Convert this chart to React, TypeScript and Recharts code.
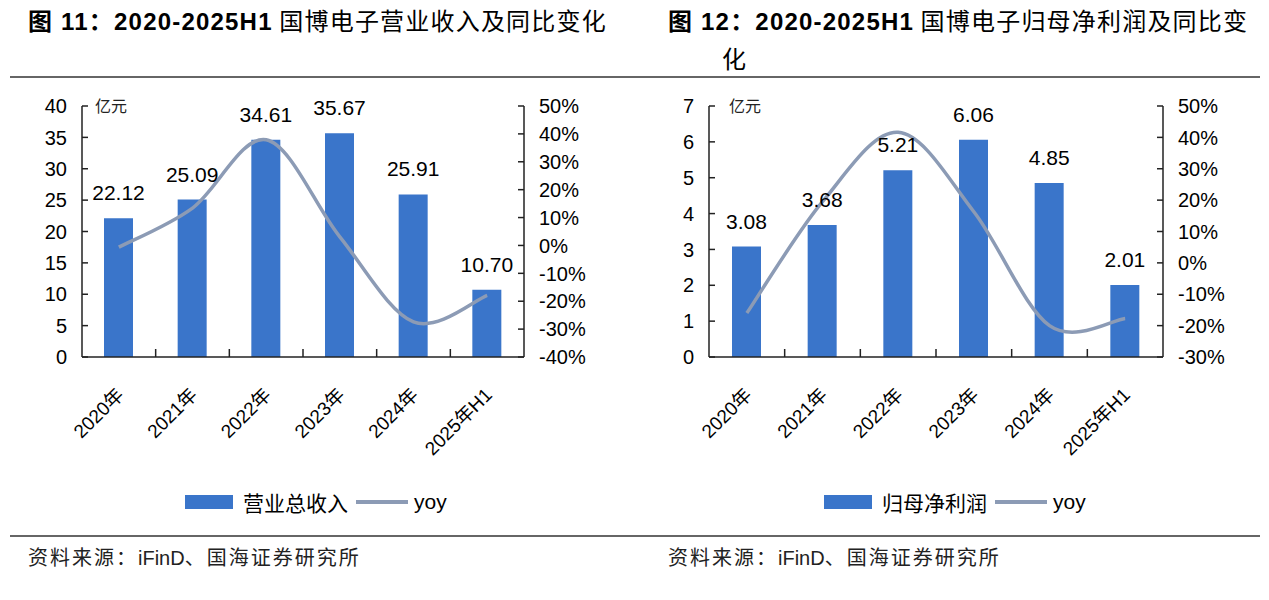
import React from 'react'
import { ComposedChart, Bar, Line, XAxis, YAxis, LabelList } from 'recharts'

const years = ['2020年', '2021年', '2022年', '2023年', '2024年', '2025年H1']
const revenue = [22.12, 25.09, 34.61, 35.67, 25.91, 10.7]
const revenueYoy = [-0.6, 13.4, 37.9, 3.1, -27.4, -17.9]
const profit = [3.08, 3.68, 5.21, 6.06, 4.85, 2.01]
const profitYoy = [-16.0, 19.5, 41.6, 16.3, -20.0, -17.7]

const revenueTicks = [0, 5, 10, 15, 20, 25, 30, 35, 40]
const revenueYoyTicks = [-40, -30, -20, -10, 0, 10, 20, 30, 40, 50]
const profitTicks = [0, 1, 2, 3, 4, 5, 6, 7]
const profitYoyTicks = [-30, -20, -10, 0, 10, 20, 30, 40, 50]

const LATIN = '"Liberation Sans", Arial, "Noto Sans CJK SC", sans-serif'
const CJK = '"Noto Sans CJK SC", sans-serif'
const BAR = '#3a75ca'
const LINE = '#8c9bb5'
const AXIS = '#222'

// Excel-like smoothed line (Catmull-Rom through every point)
function excelCurve(context: any) {
  let pts: number[][] = []
  return {
    areaStart() {},
    areaEnd() {},
    lineStart() {
      pts = []
    },
    lineEnd() {
      const n = pts.length
      if (!n) return
      context.moveTo(pts[0][0], pts[0][1])
      for (let i = 0; i < n - 1; i++) {
        const p0 = pts[Math.max(i - 1, 0)]
        const p1 = pts[i]
        const p2 = pts[i + 1]
        const p3 = pts[Math.min(i + 2, n - 1)]
        context.bezierCurveTo(
          p1[0] + (p2[0] - p0[0]) / 6,
          p1[1] + (p2[1] - p0[1]) / 6,
          p2[0] - (p3[0] - p1[0]) / 6,
          p2[1] - (p3[1] - p1[1]) / 6,
          p2[0],
          p2[1]
        )
      }
    },
    point(x: number, y: number) {
      pts.push([+x, +y])
    },
  }
}

function LeftTick({ x, y, payload }: any) {
  return (
    <g>
      <line x1={x + 15} x2={x + 21} y1={y} y2={y} stroke={AXIS} strokeWidth={1.5} />
      <text x={x} y={y} dy="0.36em" textAnchor="end" fontSize={20} fill="#000" fontFamily={LATIN}>
        {payload.value}
      </text>
    </g>
  )
}

function RightTick({ x, y, payload }: any) {
  return (
    <g>
      <line x1={x - 15} x2={x - 21} y1={y} y2={y} stroke={AXIS} strokeWidth={1.5} />
      <text x={x} y={y} dy="0.36em" textAnchor="start" fontSize={20} fill="#000" fontFamily={LATIN}>
        {payload.value}%
      </text>
    </g>
  )
}

function makeXTick(band: number) {
  return function XTick({ x, y, payload, index }: any) {
    const tx = x + 6
    const ty = y + 39
    return (
      <g>
        {index > 0 && (
          <line x1={x - band / 2} x2={x - band / 2} y1={y} y2={y - 8} stroke={AXIS} strokeWidth={1.5} />
        )}
        <text
          x={tx}
          y={ty}
          textAnchor="end"
          fontSize={19}
          fill="#000"
          fontFamily={LATIN}
          transform={`rotate(-45 ${tx} ${ty})`}
        >
          {payload.value}
        </text>
      </g>
    )
  }
}

interface PanelProps {
  left: number
  width: number
  margin: { top: number; right: number; bottom: number; left: number }
  bars: number[]
  yoy: number[]
  leftTicks: number[]
  rightTicks: number[]
  unitLeft: number
}

function Panel({ left, width, margin, bars, yoy, leftTicks, rightTicks, unitLeft }: PanelProps) {
  const data = years.map((name, i) => ({ name, value: bars[i], yoy: yoy[i] }))
  const plotW = width - margin.left - margin.right - 120
  const band = plotW / years.length
  return (
    <div style={{ position: 'absolute', left, top: 90 }}>
      <ComposedChart width={width} height={440} data={data} margin={margin}>
        <XAxis
          dataKey="name"
          interval={0}
          tickSize={0}
          tickMargin={0}
          tickLine={false}
          height={80}
          axisLine={{ stroke: AXIS, strokeWidth: 1.5 }}
          tick={makeXTick(band)}
        />
        <YAxis
          yAxisId="l"
          width={60}
          domain={[leftTicks[0], leftTicks[leftTicks.length - 1]]}
          ticks={leftTicks}
          interval={0}
          tickSize={0}
          tickMargin={15}
          tickLine={false}
          axisLine={{ stroke: AXIS, strokeWidth: 1.5 }}
          tick={LeftTick}
        />
        <YAxis
          yAxisId="r"
          orientation="right"
          width={60}
          domain={[rightTicks[0], rightTicks[rightTicks.length - 1]]}
          ticks={rightTicks}
          interval={0}
          tickSize={0}
          tickMargin={15}
          tickLine={false}
          axisLine={{ stroke: AXIS, strokeWidth: 1.5 }}
          tick={RightTick}
        />
        <Bar yAxisId="l" dataKey="value" fill={BAR} barSize={29} isAnimationActive={false}>
          <LabelList
            dataKey="value"
            position="top"
            offset={18}
            formatter={(v: any) => Number(v).toFixed(2)}
            style={{ fontSize: 21, fill: '#000', fontFamily: LATIN }}
          />
        </Bar>
        <Line
          yAxisId="r"
          dataKey="yoy"
          type={excelCurve as any}
          stroke={LINE}
          strokeWidth={3.5}
          dot={false}
          activeDot={false}
          isAnimationActive={false}
        />
      </ComposedChart>
      <div
        style={{
          position: 'absolute',
          left: unitLeft,
          top: 5,
          fontSize: 16,
          lineHeight: '20px',
          fontFamily: CJK,
          color: '#222',
        }}
      >
        亿元
      </div>
    </div>
  )
}

function LegendRow({ left, label }: { left: number; label: string }) {
  return (
    <div
      style={{
        position: 'absolute',
        left,
        top: 489,
        height: 26,
        display: 'flex',
        alignItems: 'center',
        fontSize: 21,
        color: '#000',
      }}
    >
      <div style={{ width: 48, height: 14, background: BAR }} />
      <span style={{ marginLeft: 10, fontFamily: CJK, lineHeight: '26px' }}>{label}</span>
      <div style={{ marginLeft: 8, width: 52, height: 4, background: LINE }} />
      <span style={{ marginLeft: 6, fontFamily: LATIN, lineHeight: '26px' }}>yoy</span>
    </div>
  )
}

const titleStyle: React.CSSProperties = {
  position: 'absolute',
  top: 5,
  fontSize: 24,
  lineHeight: '30px',
  whiteSpace: 'nowrap',
  color: '#000',
  fontFamily: CJK,
  letterSpacing: 1.2,
}

const sourceStyle: React.CSSProperties = {
  position: 'absolute',
  top: 543,
  fontSize: 20,
  lineHeight: '28px',
  fontFamily: CJK,
  color: '#222',
  letterSpacing: 2,
  whiteSpace: 'nowrap',
}

export default function App() {
  return (
    <div
      style={{
        position: 'absolute',
        left: 0,
        top: 0,
        width: 1269,
        height: 600,
        background: '#fff',
        overflow: 'hidden',
      }}
    >
      <div style={{ ...titleStyle, left: 28 }}>
        <b style={{ fontFamily: LATIN }}>图 11：2020-2025H1</b> 国博电子营业收入及同比变化
      </div>
      <div style={{ ...titleStyle, left: 668 }}>
        <b style={{ fontFamily: LATIN }}>图 12：2020-2025H1</b> 国博电子归母净利润及同比变
      </div>
      <div style={{ ...titleStyle, left: 722, top: 43 }}>化</div>
      <div style={{ position: 'absolute', left: 10, top: 76, width: 1250, height: 2, background: '#666' }} />

      <Panel
        left={0}
        width={640}
        margin={{ top: 16, right: 56, bottom: 93, left: 22 }}
        bars={revenue}
        yoy={revenueYoy}
        leftTicks={revenueTicks}
        rightTicks={revenueYoyTicks}
        unitLeft={95}
      />
      <Panel
        left={640}
        width={629}
        margin={{ top: 16, right: 46, bottom: 93, left: 9 }}
        bars={profit}
        yoy={profitYoy}
        leftTicks={profitTicks}
        rightTicks={profitYoyTicks}
        unitLeft={89}
      />

      <LegendRow left={185} label="营业总收入" />
      <LegendRow left={824} label="归母净利润" />

      <div style={{ position: 'absolute', left: 10, top: 535, width: 1250, height: 2, background: '#666' }} />
      <div style={{ ...sourceStyle, left: 28 }}>
        资料来源：<span style={{ fontFamily: LATIN, letterSpacing: 0 }}>iFinD</span>、国海证券研究所
      </div>
      <div style={{ ...sourceStyle, left: 668 }}>
        资料来源：<span style={{ fontFamily: LATIN, letterSpacing: 0 }}>iFinD</span>、国海证券研究所
      </div>
    </div>
  )
}
